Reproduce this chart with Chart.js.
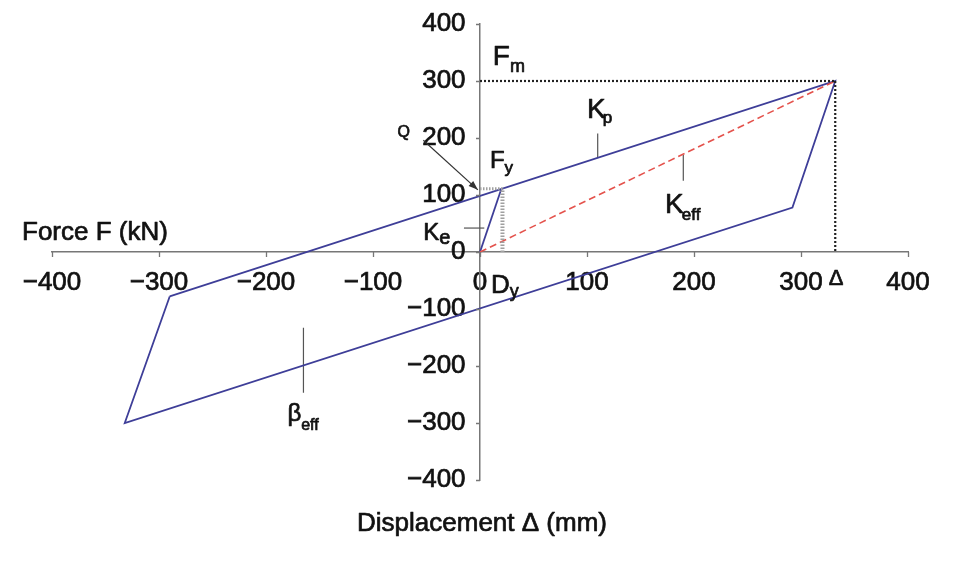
<!DOCTYPE html>
<html>
<head>
<meta charset="utf-8">
<script src="https://cdn.jsdelivr.net/npm/chart.js@4/dist/chart.umd.min.js"></script>
<style>
  html, body { margin: 0; padding: 0; background: #fff; }
  #wrap { width: 960px; height: 567px; }
</style>
</head>
<body>
<div id="wrap"><canvas id="c" width="960" height="567"></canvas></div>
<script>
// Tick values on both axes
const xTicks = [-400, -300, -200, -100, 0, 100, 200, 300, 400];
const yTicks = [-400, -300, -200, -100, 0, 100, 200, 300, 400];

// Bilinear hysteresis loop corners: displacement (mm) and force (kN)
const loopDisp  = [-290, 332, 292, -332, -290];
const loopForce = [-78, 300, 78, -300, -78];

// Initial elastic branch up to the yield point (Dy, Fy)
const elasticDisp  = [0, 20];
const elasticForce = [0, 111];

// Effective stiffness secant to the peak
const keffDisp  = [0, 332];
const keffForce = [0, 300];

// Peak force / peak displacement guides
const fmDisp   = [0, 332];
const fmForce  = [300, 300];
const peakDisp  = [332, 332];
const peakForce = [300, 0];

// Yield guides
const dyDisp  = [21, 21];
const dyForce = [0, 111];
const fyDisp  = [0, 21];
const fyForce = [111, 111];

// Short leader lines pointing at the labelled branches
const kpLeadDisp    = [110, 110];
const kpLeadForce   = [165, 208];
const keffLeadDisp  = [190, 190];
const keffLeadForce = [125, 170];
const betaLeadDisp  = [-165, -165];
const betaLeadForce = [-133, -247];
const keLeadDisp    = [-15, 4];
const keLeadForce   = [42, 42];

const pts = (xs, ys) => xs.map((x, i) => ({ x, y: ys[i] }));

const line = (xs, ys, color, width, dash) => ({
  data: pts(xs, ys),
  showLine: true,
  borderColor: color,
  borderWidth: width,
  borderDash: dash || [],
  pointRadius: 0,
  fill: false,
  tension: 0
});

const FONT = "'Liberation Sans', Arial, Helvetica, sans-serif";
Chart.defaults.font.family = FONT;

const INK = '#111';
const STROKE = 0.7;   // light outline to give the text a heavier print weight

const minus = v => (v < 0 ? '\u2212' + Math.abs(v) : String(v));

// Symbol labels: main letter plus subscript, anchored in data units
const notes = [
  { main: 'F', sub: 'm',   x: 12,   y: 328,  size: 28, subSize: 18, dy: 7 },
  { main: 'K', sub: 'p',   x: 100,  y: 235,  size: 28, subSize: 17, dy: 5, subShift: -3 },
  { main: 'K', sub: 'eff', x: 173,  y: 68,   size: 28, subSize: 17, dy: 7, subShift: -2 },
  { main: 'F', sub: 'y',   x: 9.3,  y: 147,  size: 24, subSize: 17, dy: 5 },
  { main: 'K', sub: 'e',   x: -53,  y: 21,   size: 24, subSize: 20, dy: 4 },
  { main: 'Q', sub: '',    x: -77,  y: 202,  size: 16, subSize: 0,  dy: 0 },
  { main: 'D', sub: 'y',   x: 10.3, y: -72,  size: 26, subSize: 18, dy: 4 },
  { main: '\u0394', sub: '', x: 326, y: -58, size: 22, subSize: 0, dy: 0 },
  { main: '\u03B2', sub: 'eff', x: -180, y: -296, size: 24, subSize: 16, dy: 9 }
];

// Arrow from the Q label to the force intercept
const qArrowDisp  = [-53, -2];
const qArrowForce = [196, 109];

const AXIS = '#777';

function inkText(ctx, text, x, y) {
  ctx.strokeText(text, x, y);
  ctx.fillText(text, x, y);
}

const notesPlugin = {
  id: 'notes',
  afterDatasetsDraw(chart) {
    const { ctx, scales: { x, y } } = chart;
    ctx.save();

    // Small tick marks on the crossing axes
    const x0px = x.getPixelForValue(0);
    const y0px = y.getPixelForValue(0);
    ctx.strokeStyle = AXIS;
    ctx.lineWidth = 1.3;
    ctx.beginPath();
    xTicks.forEach(v => {
      const px = Math.round(x.getPixelForValue(v)) + 0.5;
      ctx.moveTo(px, y0px);
      ctx.lineTo(px, y0px + 5);
    });
    yTicks.forEach(v => {
      const py = Math.round(y.getPixelForValue(v)) + 0.5;
      ctx.moveTo(x0px, py);
      ctx.lineTo(x0px - 4, py);
    });
    ctx.stroke();

    ctx.fillStyle = INK;
    ctx.strokeStyle = INK;
    ctx.lineWidth = STROKE;
    ctx.lineJoin = 'round';
    ctx.textBaseline = 'alphabetic';
    ctx.textAlign = 'left';
    notes.forEach(n => {
      const px = x.getPixelForValue(n.x);
      const py = y.getPixelForValue(n.y);
      ctx.font = `${n.size}px ${FONT}`;
      inkText(ctx, n.main, px, py);
      if (n.sub) {
        const w = ctx.measureText(n.main).width;
        ctx.font = `${n.subSize}px ${FONT}`;
        inkText(ctx, n.sub, px + w + (n.subShift || 0), py + n.dy);
      }
    });

    // Axis titles
    ctx.font = `26px ${FONT}`;
    ctx.textAlign = 'left';
    inkText(ctx, 'Force F (kN)', 22, 240);
    ctx.textAlign = 'center';
    inkText(ctx, 'Displacement \u0394 (mm)', 482, 531);

    // Q arrow
    const ax0 = x.getPixelForValue(qArrowDisp[0]), ay0 = y.getPixelForValue(qArrowForce[0]);
    const ax1 = x.getPixelForValue(qArrowDisp[1]), ay1 = y.getPixelForValue(qArrowForce[1]);
    ctx.strokeStyle = '#333';
    ctx.lineWidth = 1.2;
    ctx.beginPath();
    ctx.moveTo(ax0, ay0);
    ctx.lineTo(ax1, ay1);
    ctx.stroke();
    const ang = Math.atan2(ay1 - ay0, ax1 - ax0);
    const L = 10, A = 0.35;
    ctx.fillStyle = '#333';
    ctx.beginPath();
    ctx.moveTo(ax1, ay1);
    ctx.lineTo(ax1 - L * Math.cos(ang - A), ay1 - L * Math.sin(ang - A));
    ctx.lineTo(ax1 - L * Math.cos(ang + A), ay1 - L * Math.sin(ang + A));
    ctx.closePath();
    ctx.fill();
    ctx.restore();
  }
};

const tickFont = { size: 26 };

new Chart(document.getElementById('c'), {
  type: 'scatter',
  data: {
    datasets: [
      line(fmDisp, fmForce, '#222', 2.2, [2, 2]),
      line(peakDisp, peakForce, '#222', 2.2, [2, 2]),
      line(dyDisp, dyForce, '#a0a0a0', 4, [1.5, 1.5]),
      line(fyDisp, fyForce, '#a0a0a0', 3, [1.5, 1.5]),
      line(keffDisp, keffForce, '#e4524c', 1.6, [7, 4]),
      line(loopDisp, loopForce, '#3e3e98', 1.8),
      line(elasticDisp, elasticForce, '#3e3e98', 1.8),
      line(kpLeadDisp, kpLeadForce, '#555', 1.2),
      line(keffLeadDisp, keffLeadForce, '#555', 1.2),
      line(betaLeadDisp, betaLeadForce, '#555', 1.2),
      line(keLeadDisp, keLeadForce, '#555', 1.2)
    ]
  },
  options: {
    responsive: false,
    animation: false,
    events: [],
    layout: { padding: { left: 52, right: 52, top: 24, bottom: 87 } },
    plugins: { legend: { display: false }, tooltip: { enabled: false } },
    scales: {
      x: {
        type: 'linear',
        position: { y: 0 },
        min: -400, max: 400,
        afterBuildTicks: s => { s.ticks = xTicks.map(v => ({ value: v })); },
        border: { display: true, color: AXIS, width: 1.5 },
        grid: { display: false, drawTicks: false, tickLength: 0 },
        ticks: {
          color: INK, font: tickFont, padding: 15, autoSkip: false, maxRotation: 0,
          textStrokeColor: INK, textStrokeWidth: STROKE,
          callback: v => minus(v)
        }
      },
      y: {
        type: 'linear',
        position: { x: 0 },
        min: -400, max: 400,
        afterBuildTicks: s => { s.ticks = yTicks.map(v => ({ value: v })); },
        border: { display: true, color: AXIS, width: 1.5 },
        grid: { display: false, drawTicks: false, tickLength: 0 },
        ticks: {
          color: INK, font: tickFont, padding: 0, autoSkip: false,
          textStrokeColor: INK, textStrokeWidth: STROKE,
          // trailing gap keeps the labels clear of the axis line
          callback: v => minus(v) + '  '
        }
      }
    }
  },
  plugins: [notesPlugin]
});
</script>
</body>
</html>
